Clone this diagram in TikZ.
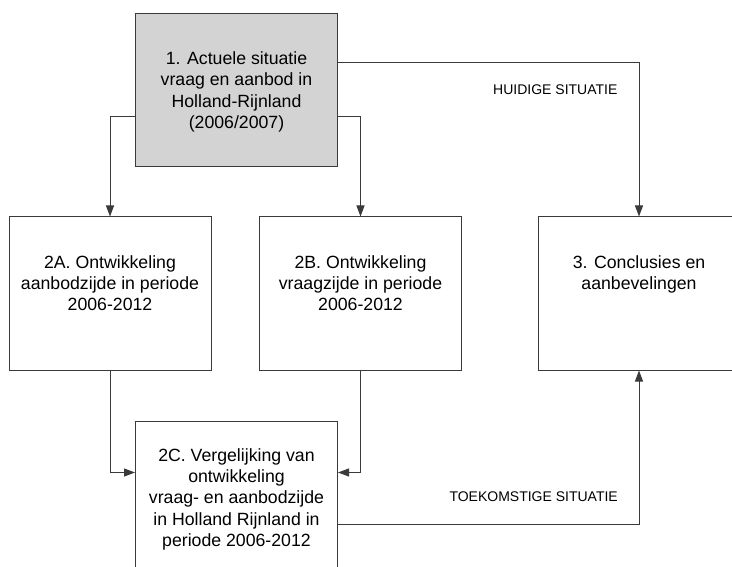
\documentclass[tikz,border=0pt]{standalone}
\usepackage{fontspec}
\setmainfont{Liberation Sans}
\usetikzlibrary{arrows.meta, positioning}
\definecolor{boxgray}{HTML}{D3D3D3}
\definecolor{linegray}{HTML}{3A3A3A}

\begin{document}
\begin{tikzpicture}[
    x=1pt, y=-1pt,
    >={Triangle[length=11pt,width=8pt]},
    on grid,
    box/.style={draw=linegray, line width=1pt, minimum width=202pt,
        minimum height=153pt, inner sep=0pt, align=center, text depth=0pt,
        font=\fontsize{17.7}{21.2}\selectfont},
    flow/.style={->, draw=linegray, line width=1pt},
    tag/.style={font=\fontsize{14}{17}\selectfont},
]
    \useasboundingbox (0,0) rectangle (732,567);
    \clip (0,0) rectangle (732,567);

    \node[box, fill=boxgray]                              (b1)  at (236.5,90)
        {1. Actuele situatie\\vraag en aanbod in\\Holland-Rijnland\\(2006/2007)};
    \node[box, below left=203.5pt and 126.5pt of b1]     (b2a)
        {2A. Ontwikkeling\\aanbodzijde in periode\\2006-2012\\\mbox{}};
    \node[box, right=250.5pt of b2a]                      (b2b)
        {2B. Ontwikkeling\\vraagzijde in periode\\2006-2012\\\mbox{}};
    \node[box, right=278.5pt of b2b]                      (b3)
        {3. Conclusies en\\aanbevelingen\\\mbox{}\\\mbox{}};
    \node[box, below=407.5pt of b1]                       (b2c)
        {2C. Vergelijking van\\ontwikkeling\\vraag- en aanbodzijde\\in Holland Rijnland in\\periode 2006-2012};

    % connectors
    \draw[flow] ([yshift=27pt]b1.east) -| node[tag, pos=0.361, yshift=-27pt] (nowlbl) {HUIDIGE SITUATIE} (b3.north);
    \draw[flow] ([yshift=-27pt]b1.west) -| (b2a.north);
    \draw[flow] ([yshift=-27pt]b1.east) -| (b2b.north);
    \draw[flow] (b2a.south) |- ([yshift=25pt]b2c.west);
    \draw[flow] (b2b.south) |- ([yshift=25pt]b2c.east);
    \draw[flow] ([yshift=-26.5pt]b2c.east) -| node[tag, pos=0.325, yshift=27pt] (futlbl) {TOEKOMSTIGE SITUATIE} (b3.south);
\end{tikzpicture}
\end{document}
